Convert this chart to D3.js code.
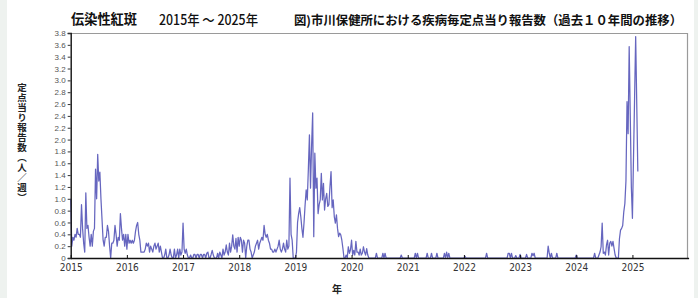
<!DOCTYPE html>
<html><head><meta charset="utf-8">
<script src="https://cdn.jsdelivr.net/npm/d3@7"></script>
<style>
html,body{margin:0;padding:0;background:#fff;}
svg{display:block;}
</style></head><body>
<svg id="chart" width="698" height="298"></svg>
<script>
// ---- data (weekly values, 定点当り報告数) ----
const years = [2015,2016,2017,2018,2019,2020,2021,2022,2023,2024,2025];
const y2015 = [1.0,0.2,0.35,0.3,0.4,0.35,0.5,0.4,0.4,0.35,0.9,0.5,0.25,0.1,1.1,0.5,0.55,0.35,0.2,0.4,0.2,0.45,0.5,1.5,1.0,1.75,1.3,1.45,1.0,0.65,0.3,0.2,0.35,0.35,0.55,0.45,0.2,0.0,0.25,0.25,0.3,0.55,0.4,0.2,0.35,0.3,0.75,0.5,0.3,0.4,0.2,0.4];
const y2016 = [0.15,0.4,0.25,0.3,0.25,0.3,0.25,0.3,0.45,0.55,0.6,0.4,0.3,0.1,0.1,0.1,0.1,0.15,0.25,0.2,0.25,0.1,0.2,0.15,0.1,0.2,0.25,0.15,0.2,0.25,0.1,0.2,0.1,0.0,0.0,0.05,0.15,0.0,0.0,0.05,0.15,0.05,0.0,0.0,0.15,0.0,0.05,0.15,0.0,0.15,0.05,0.1];
const y2017 = [0.59,0.15,0.08,0.15,0.05,0.0,0.0,0.05,0.0,0.0,0.06,0.06,0.0,0.06,0.06,0.0,0.06,0.06,0.0,0.06,0.06,0.0,0.08,0.1,0.0,0.0,0.06,0.13,0.05,0.0,0.0,0.0,0.08,0.0,0.1,0.05,0.0,0.15,0.05,0.1,0.22,0.1,0.05,0.25,0.1,0.2,0.39,0.2,0.15,0.33,0.1,0.35];
const y2018 = [0.2,0.35,0.3,0.1,0.3,0.25,0.0,0.2,0.3,0.3,0.15,0.1,0.0,0.05,0.1,0.2,0.25,0.3,0.15,0.25,0.3,0.35,0.3,0.55,0.4,0.35,0.4,0.3,0.25,0.15,0.15,0.1,0.1,0.15,0.1,0.15,0.2,0.3,0.15,0.1,0.15,0.25,0.15,0.1,0.3,0.15,0.2,1.35,0.4,0.3,0.0,0.0];
const y2019 = [0.0,0.1,0.6,0.75,0.85,0.7,0.5,0.35,0.6,0.9,1.15,0.98,1.5,2.08,1.18,1.9,2.45,0.36,1.77,1.18,1.35,0.75,0.9,0.98,1.43,0.98,1.26,0.81,1.0,1.09,0.87,0.9,1.2,1.46,0.85,0.98,0.7,0.59,0.73,0.5,0.36,0.42,0.39,0.3,0.16,0.0,0.0,0.05,0.0,0.19,0.08,0.14];
const y2020 = [0.3,0.05,0.13,0.05,0.28,0.1,0.1,0.05,0.15,0.05,0.08,0.19,0.1,0.05,0.16,0.05,0,0,0,0,0,0,0,0.08,0,0,0,0,0,0.08,0,0.08,0,0,0,0,0,0,0,0,0,0,0,0,0,0,0.05,0,0,0,0,0];
const y2021 = [0,0,0,0,0,0,0,0.08,0,0.08,0,0,0,0,0,0,0,0,0.08,0,0,0,0.08,0,0,0,0,0.08,0,0,0,0,0,0,0.08,0,0.1,0,0.08,0,0,0,0,0,0,0,0,0,0,0,0,0];
const y2022 = [0,0.03,0,0,0,0,0,0,0,0,0,0,0,0,0,0,0,0,0,0,0,0.08,0,0,0,0,0,0,0,0,0,0,0,0,0,0,0,0,0,0,0,0.08,0.08,0,0.08,0,0,0,0.04,0,0,0];
const y2023 = [0.06,0,0,0,0,0,0.06,0,0,0,0,0.08,0.04,0.08,0,0,0,0,0,0,0,0,0,0,0,0,0.2,0.08,0,0.08,0,0,0,0,0.08,0,0,0,0,0,0,0,0,0,0,0,0,0,0,0,0,0];
const y2024 = [0.05,0,0,0,0,0,0,0,0,0,0,0,0,0,0,0,0,0.08,0,0,0,0.05,0.1,0.19,0.59,0.08,0.1,0.05,0.22,0.3,0.05,0.25,0.28,0.2,0.28,0.16,0.05,0,0,0,0.33,0.47,0.5,0.55,0.78,0.92,1.3,2.64,2.1,3.57,2.4,1.2];
const y2025 = [0.67,1.7,2.7,3.74,2.6,1.46];
const series = [y2015,y2016,y2017,y2018,y2019,y2020,y2021,y2022,y2023,y2024,y2025];
const yTicks = [0,0.2,0.4,0.6,0.8,1.0,1.2,1.4,1.6,1.8,2.0,2.2,2.4,2.6,2.8,3.0,3.2,3.4,3.6,3.8];
const xTickYears = [2015,2016,2017,2018,2019,2020,2021,2022,2023,2024,2025];
const titleLeft = "伝染性紅斑";
const titleMid = "2015年 ～ 2025年";
const titleRight = "図)市川保健所における疾病毎定点当り報告数（過去１０年間の推移）";
const yTitle = "定点当り報告数（人／週）";
const xTitle = "年";

// ---- drawing ----
const svg = d3.select("#chart");
const L = 70.7, R = 688, T = 33, B = 258;
const x = d3.scaleLinear().domain([2015, 2026]).range([L, 688.6]);
const y = d3.scaleLinear().domain([0, 3.8]).range([B, T]);

svg.append("rect").attr("x",0).attr("y",0).attr("width",698).attr("height",298).attr("fill","#ffffff");
svg.append("rect").attr("x",0).attr("y",0).attr("width",7).attr("height",298).attr("fill","#eef2ef");
svg.append("rect").attr("x",694).attr("y",0).attr("width",4).attr("height",298).attr("fill","#eef2ef");

const data = years.flatMap((yr,k) => series[k].map((v,i) => ({t: yr + i/52, v})));

// frame top/right (grey)
svg.append("line").attr("x1",L).attr("x2",R).attr("y1",T+0.5).attr("y2",T+0.5).attr("stroke","#9a9a9a").attr("stroke-width",1.2);
svg.append("line").attr("x1",R-0.5).attr("x2",R-0.5).attr("y1",T).attr("y2",B).attr("stroke","#9a9a9a").attr("stroke-width",1.2);

// line
svg.append("path").datum(data)
  .attr("fill","none").attr("stroke","#6666bf").attr("stroke-width",1.25)
  .attr("stroke-linejoin","round")
  .attr("d", d3.line().x(d=>x(d.t)).y(d=>y(d.v)));

// y axis
const ya = svg.append("g").attr("transform",`translate(${L},0)`)
  .call(d3.axisLeft(y).tickValues(yTicks).tickSize(3).tickPadding(2)
    .tickFormat(d => d===0 ? "0" : d3.format(".1f")(d)));
ya.select(".domain").attr("stroke","#111").attr("stroke-width",1.4);
ya.selectAll(".tick line").attr("stroke","#333");
ya.selectAll(".tick text").attr("font-family","'Liberation Sans', Arial, sans-serif").attr("font-size",8).attr("fill","#555");

// x axis
const xa = svg.append("g").attr("transform",`translate(0,${B})`)
  .call(d3.axisBottom(x).tickValues(xTickYears).tickSize(-3).tickSizeOuter(0).tickPadding(6).tickFormat(d3.format("d")));
xa.select(".domain").attr("stroke","#111").attr("stroke-width",1.6);
xa.selectAll(".tick line").attr("stroke","#111");
xa.selectAll(".tick text").attr("font-family","'Liberation Sans Narrow','DejaVu Sans Condensed',sans-serif").attr("font-size",10).attr("fill","#333");

const cjk = "'Noto Sans CJK JP','Noto Sans CJK SC',sans-serif";
svg.append("text").attr("x",71).attr("y",24).attr("font-family",cjk).attr("font-weight","bold")
  .attr("font-size",14).attr("textLength",66).attr("lengthAdjust","spacingAndGlyphs").attr("fill","#111").text(titleLeft);
svg.append("text").attr("x",159).attr("y",25).attr("font-family",cjk).attr("font-weight",500)
  .attr("font-size",14).attr("textLength",99).attr("lengthAdjust","spacingAndGlyphs").attr("fill","#111").text(titleMid);
svg.append("text").attr("x",294).attr("y",25).attr("font-family",cjk).attr("font-weight","bold")
  .attr("font-size",12.5).attr("textLength",388).attr("lengthAdjust","spacingAndGlyphs").attr("fill","#111").text(titleRight);

// vertical y title
svg.append("text").attr("x",22).attr("y",143).attr("font-family",cjk).attr("font-weight","bold")
  .attr("font-size",9.5).attr("fill","#222").attr("text-anchor","middle")
  .style("writing-mode","vertical-rl").style("letter-spacing","0.5px").text(yTitle);

svg.append("text").attr("x",337).attr("y",293).attr("font-family",cjk).attr("font-weight","bold")
  .attr("font-size",10).attr("fill","#222").attr("text-anchor","middle").text(xTitle);
</script>
</body></html>
